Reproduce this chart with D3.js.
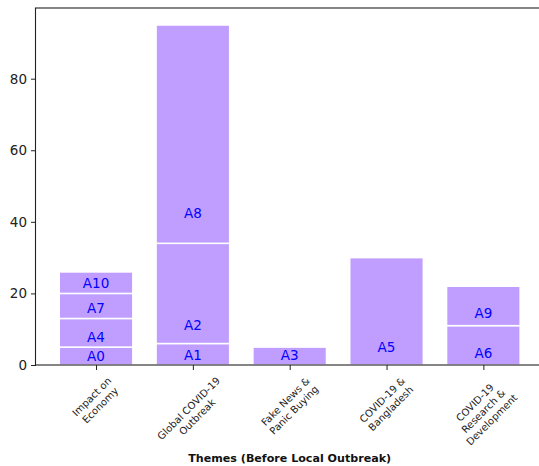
<!DOCTYPE html>
<html><head><meta charset="utf-8">
<script src="https://cdn.jsdelivr.net/npm/d3@7"></script>
<style>body{margin:0;background:#fff} svg{display:block;font-family:"DejaVu Sans",sans-serif}</style>
</head><body><svg id="c" width="539" height="466"></svg>
<script>
const categories = ["Impact on\nEconomy", "Global COVID-19\nOutbreak", "Fake News &\nPanic Buying", "COVID-19 &\nBangladesh", "COVID-19\nResearch &\nDevelopment"];
const segmentNames = ["A0", "A4", "A7", "A10", "A1", "A2", "A8", "A3", "A5", "A6", "A9"];
const segmentCategory = [0, 0, 0, 0, 1, 1, 1, 2, 3, 4, 4];
const segmentValues = [5, 8, 7, 6, 6, 28, 61, 5, 30, 11, 11];
const labelValues = [2.5, 7.9, 15.8, 22.8, 2.8, 11.2, 42.4, 2.8, 5.1, 3.3, 14.4];
const yTicks = [0, 20, 40, 60, 80];
const xTitle = "Themes (Before Local Outbreak)";

const svg = d3.select("#c");
const plot = {left: 36, right: 543.4, top: 8, bottom: 365};
const x = d3.scaleLinear().domain([-0.62, 4.62]).range([plot.left, plot.right]);
const y = d3.scaleLinear().domain([0, 99.75]).range([plot.bottom, plot.top]);
const barWidth = 0.76;

const base = categories.map(() => 0);
const segs = segmentNames.map((n, i) => {
  const c = segmentCategory[i];
  const y0 = base[c];
  base[c] += segmentValues[i];
  return {name: n, cat: c, y0, y1: base[c], lab: labelValues[i]};
});

svg.append("g").selectAll("rect").data(segs).join("rect")
  .attr("x", d => x(d.cat - barWidth / 2))
  .attr("width", x(barWidth) - x(0))
  .attr("y", d => y(d.y1))
  .attr("height", d => y(d.y0) - y(d.y1))
  .attr("fill", "#c09eff")
  .attr("stroke", "#fff")
  .attr("stroke-width", 1.5);

svg.append("g").selectAll("text").data(segs).join("text")
  .attr("x", d => x(d.cat))
  .attr("y", d => y(d.lab))
  .attr("dy", "0.36em")
  .attr("text-anchor", "middle")
  .attr("font-size", 13.5)
  .attr("fill", "#0000ff")
  .text(d => d.name);

// y axis
const ya = svg.append("g").attr("transform", `translate(${plot.left},0)`)
  .call(d3.axisLeft(y).tickValues(yTicks).tickSize(5).tickPadding(4));
ya.select(".domain").remove();
ya.selectAll("text").attr("font-size", 13.5).attr("font-family", "DejaVu Sans").attr("fill", "#222");
ya.selectAll("line").attr("stroke", "#222");

// x axis
const xa = svg.append("g").attr("transform", `translate(0,${plot.bottom})`)
  .call(d3.axisBottom(x).tickValues(categories.map((c, i) => i)).tickFormat("").tickSize(5));
xa.select(".domain").remove();
xa.selectAll("line").attr("stroke", "#222");

categories.forEach((c, i) => {
  const g = svg.append("g");
  const t = g.append("text").attr("text-anchor", "middle").attr("font-size", 10).attr("fill", "#222");
  c.split("\n").forEach((l, j) => t.append("tspan").attr("x", 0).attr("dy", j === 0 ? 0 : "1.2em").text(l));
  const bb = t.node().getBBox();
  t.attr("transform", `translate(0,${-(bb.y + bb.height / 2)})`);
  const half = (bb.width + bb.height) / (2 * Math.SQRT2);
  g.attr("transform", `translate(${x(i)},${plot.bottom + 10 + half}) rotate(-45)`);
});

// spines
svg.append("rect")
  .attr("x", plot.left - 0.5).attr("y", plot.top)
  .attr("width", plot.right - plot.left).attr("height", plot.bottom - plot.top)
  .attr("fill", "none").attr("stroke", "#222").attr("stroke-width", 1.1);

svg.append("text")
  .attr("x", (plot.left + plot.right) / 2)
  .attr("y", 462)
  .attr("text-anchor", "middle")
  .attr("font-size", 11.1)
  .attr("font-weight", "bold")
  .attr("fill", "#111")
  .text(xTitle);
</script></body></html>
